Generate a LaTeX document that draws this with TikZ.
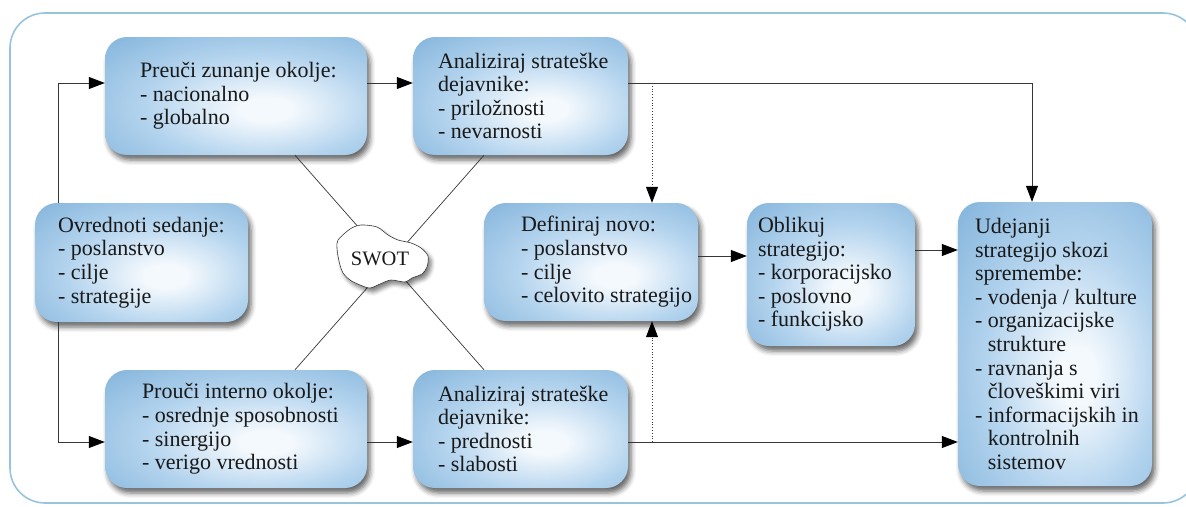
\documentclass[tikz,border=0pt]{standalone}
\usepackage{fontspec}
\setmainfont{Liberation Serif}
\newfontfamily\diagfont{Liberation Serif}
\usetikzlibrary{arrows.meta,shadows.blur,calc}

\definecolor{frameblue}{RGB}{150,195,222}
\definecolor{boxout}{RGB}{128,178,218}
\definecolor{boxmid}{RGB}{180,212,238}
\definecolor{boxin}{RGB}{244,249,253}
\definecolor{linegray}{RGB}{55,55,55}
\definecolor{textdark}{RGB}{25,25,25}

% soft glow: pale centre fading to blue edges
\pgfdeclareradialshading{boxglow}{\pgfpoint{6bp}{-6bp}}{%
  color(0bp)=(boxin); color(5bp)=(boxin); color(22bp)=(boxmid);
  color(42bp)=(boxout); color(100bp)=(boxout)}

\begin{document}
\begin{tikzpicture}[x=1pt,y=-1pt,
  box/.style={rectangle, rounded corners=22pt, shade, shading=boxglow, inner sep=0pt,
    blur shadow={shadow xshift=3pt, shadow yshift=-5pt, shadow blur radius=5pt, shadow opacity=60}},
  lbl/.style={anchor=west, align=left, inner sep=0pt,
    font=\diagfont\fontsize{22}{23.6}\selectfont, text=textdark},
  arr/.style={draw=linegray, line width=0.8pt, -{Triangle[length=16pt,width=12pt,fill=black,color=black]}},
  link/.style={draw=linegray, line width=0.7pt}]

\useasboundingbox (0,0) rectangle (1186,506);

% outer frame
\draw[frameblue, line width=1.6pt, rounded corners=35pt] (10,13) rectangle (1198,503);

% helper coordinates for connector rails
\coordinate (ytop) at (0,83);
\coordinate (ybot) at (0,442);
\coordinate (ydef) at (0,256);
\coordinate (yobl) at (0,250);
\coordinate (xleft) at (58,0);
\coordinate (xdot) at (652,0);
\coordinate (xright) at (1032,0);
\coordinate (xa) at (295,0);
\coordinate (xb) at (484,0);

% boxes
\node[box, minimum width=262pt, minimum height=118pt] (b1) at (236,96) {};
\node[box, minimum width=215pt, minimum height=118pt] (b2) at (520.5,96) {};
\node[box, minimum width=213pt, minimum height=119pt] (b3) at (141.5,262.5) {};
\node[box, minimum width=262pt, minimum height=118pt] (b4) at (236,429) {};
\node[box, minimum width=215pt, minimum height=118pt] (b5) at (520.5,429) {};
\node[box, minimum width=214pt, minimum height=118pt] (b6) at (591,262) {};
\node[box, minimum width=168pt, minimum height=143pt] (b7) at (831,274.5) {};
\node[box, minimum width=194pt, minimum height=284pt] (b8) at (1055,344) {};

% texts
\node[lbl] (t1) at ([xshift=35pt]b1.west) {Preuči zunanje okolje:\\- nacionalno\\- globalno};
\node[lbl] (t2) at ([xshift=25pt]b2.west) {Analiziraj strateške\\dejavnike:\\- priložnosti\\- nevarnosti};
\node[lbl] (t3) at ([xshift=23pt]b3.west) {Ovrednoti sedanje:\\- poslanstvo\\- cilje\\- strategije};
\node[lbl] (t4) at ([xshift=37pt]b4.west) {Prouči interno okolje:\\- osrednje sposobnosti\\- sinergijo\\- verigo vrednosti};
\node[lbl] (t5) at ([xshift=25pt]b5.west) {Analiziraj strateške\\dejavnike:\\- prednosti\\- slabosti};
\node[lbl] (t6) at ([xshift=37pt]b6.west) {Definiraj novo:\\- poslanstvo\\- cilje\\- celovito strategijo};
\node[lbl] (t7) at ([xshift=11pt]b7.west) {Oblikuj\\strategijo:\\- korporacijsko\\- poslovno\\- funkcijsko};
\node[lbl] (t8) at ([xshift=17pt]b8.west) {Udejanji\\strategijo skozi\\spremembe:\\- vodenja / kulture\\- organizacijske\\\phantom{- }strukture\\- ravnanja s\\\phantom{- }človeškimi viri\\- informacijskih in\\\phantom{- }kontrolnih\\\phantom{- }sistemov};

% SWOT cross
\draw[link] (b1.south -| xa) -- (b5.north -| xb);
\draw[link] (b2.south -| xb) -- (b4.north -| xa);

% SWOT blob
\path[draw=linegray, line width=0.6pt, fill=white,
  blur shadow={shadow xshift=3pt, shadow yshift=-4pt, shadow blur radius=4pt, shadow opacity=50}]
  plot[smooth cycle, tension=0.5] coordinates {
  (338,240) (350,229) (361,225) (377,227) (388,235) (398,240) (411,243) (421,248)
  (428,256) (427,267) (422,274) (412,278) (405,282) (391,280) (380,284) (370,288)
  (360,285) (350,280) (343,273) (340,265) (338,256) (337,248)};
\node[lbl, anchor=center, font=\diagfont\fontsize{20.5}{22}\selectfont] (swot) at (380,259) {SWOT};

% connectors
\draw[arr] (b3.north -| xleft) |- (b1.west |- ytop);
\draw[arr] (b3.south -| xleft) |- (b4.west |- ybot);
\draw[arr] (b1.east |- ytop) -- (b2.west |- ytop);
\draw[arr] (b4.east |- ybot) -- (b5.west |- ybot);
\draw[arr] (b2.east |- ytop) -| (b8.north -| xright);
\draw[arr] (b5.east |- ybot) -- (b8.west |- ybot);
\draw[arr, dotted] (xdot |- ytop) -- (b6.north -| xdot);
\draw[arr, dotted] (xdot |- ybot) -- (b6.south -| xdot);
\draw[arr] (b6.east |- ydef) -- (b7.west |- ydef);
\draw[arr] (b7.east |- yobl) -- (b8.west |- yobl);
\end{tikzpicture}
\end{document}
